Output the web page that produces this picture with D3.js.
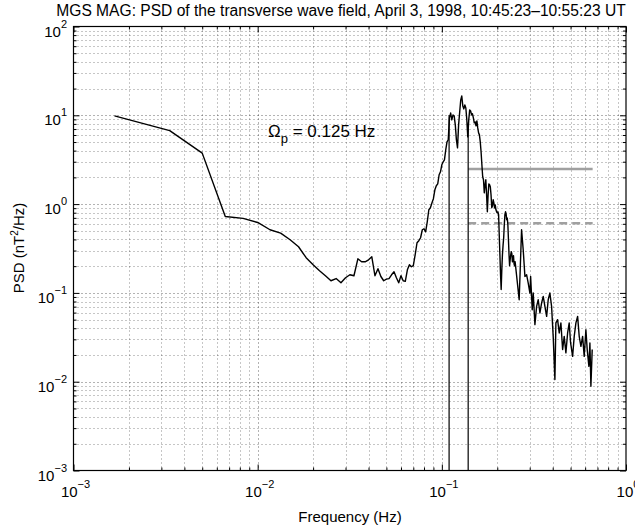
<!DOCTYPE html>
<html><head><meta charset="utf-8">
<script src="https://cdn.jsdelivr.net/npm/d3@7"></script>
<style>body{margin:0;background:#fff}svg{display:block}text{font-family:"Liberation Sans",Arial,Helvetica,sans-serif;fill:#000}</style>
</head><body>
<svg id="c" width="635" height="529"></svg>
<script>
const titleText = "MGS MAG: PSD of the transverse wave field, April 3, 1998, 10:45:23\u201310:55:23 UT";
const xLabel = "Frequency (Hz)";
const annotation = "0.125 Hz";
const xTickExps = [-3, -2, -1, 0];
const yTickExps = [-3, -2, -1, 0, 1, 2];

const freq = [
0.00167,0.00333,0.005,0.00667,0.00833,0.01,0.01167,0.01333,0.015,0.01667,
0.01833,0.02,0.02167,0.02333,0.025,0.02667,0.02833,0.03,0.03167,0.03333,
0.035,0.03667,0.03833,0.04,0.04167,0.04333,0.045,0.04667,0.04833,0.05,
0.05167,0.05333,0.055,0.05667,0.05833,0.06,0.06167,0.06333,0.065,0.06667,
0.06833,0.07,0.07167,0.07333,0.075,0.07667,0.07833,0.08,0.08167,0.08333,
0.085,0.08667,0.08833,0.09,0.09167,0.09333,0.095,0.09667,0.09833,0.1,
0.10167,0.10333,0.105,0.10667,0.10833,0.11,0.11167,0.11333,0.115,0.11667,
0.11833,0.12,0.12167,0.12333,0.125,0.12667,0.12833,0.13,0.13167,0.13333,
0.135,0.13667,0.13833,0.14,0.14167,0.14333,0.145,0.14667,0.14833,0.15,
0.15167,0.15333,0.155,0.15667,0.15833,0.16,0.16167,0.16333,0.165,0.16667,
0.16833,0.17,0.17167,0.17333,0.175,0.17667,0.17833,0.18,0.18167,0.18333,
0.185,0.18667,0.18833,0.19,0.19167,0.19333,0.195,0.19667,0.19833,0.2,
0.20167,0.20333,0.205,0.20667,0.20833,0.21,0.21167,0.21333,0.215,0.21667,
0.21833,0.22,0.22167,0.22333,0.225,0.22667,0.22833,0.23,0.23167,0.23333,
0.235,0.23667,0.23833,0.24,0.24167,0.24333,0.245,0.24667,0.24833,0.25,
0.263,0.271,0.2766,0.2826,0.2887,0.2945,0.3008,0.3035,0.3096,0.3135,
0.3202,0.3271,0.3337,0.3409,0.3482,0.3552,0.3628,0.3707,0.3781,0.3861,
0.3944,0.4024,0.4111,0.4162,0.4252,0.4339,0.4432,0.4527,0.4618,0.4717,
0.4819,0.4916,0.5003,0.5130,0.5234,0.5346,0.5461,0.5571,0.5691,0.5813,
0.5930,0.6057,0.6157,0.6289,0.6368,0.6448,0.6554];

const psd = [
9.85,6.73,3.75,0.725,0.69,0.621,0.514,0.472,0.397,0.331,
0.249,0.208,0.178,0.156,0.137,0.145,0.130,0.148,0.160,0.156,
0.242,0.224,0.224,0.236,0.255,0.156,0.187,0.153,0.137,0.143,
0.145,0.160,0.173,0.148,0.130,0.156,0.137,0.135,0.182,0.208,
0.197,0.203,0.269,0.367,0.387,0.418,0.514,0.528,0.487,0.632,
0.863,0.909,1.03,1.15,1.45,1.61,1.69,2.14,2.31,2.77,
2.99,3.15,4.08,5.02,5.29,9.35,10.6,8.87,10.1,9.84,
7.80,5.29,4.30,7.80,10.9,14.9,16.5,12.7,11.8,13.1,
12.1,8.87,5.71,8.87,11.5,11.2,10.1,10.4,9.35,8.21,
8.43,7.60,8.65,7.21,6.34,6.02,5.02,3.88,2.77,2.03,
1.88,1.34,1.65,1.88,1.27,0.819,1.27,1.69,1.65,1.57,
1.27,0.909,0.957,1.12,1.03,0.909,0.98,0.863,0.819,0.798,
0.819,0.759,0.452,0.269,0.160,0.109,0.182,0.269,0.343,0.418,
0.585,0.759,0.819,0.778,0.666,0.696,0.585,0.397,0.269,0.202,
0.236,0.269,0.291,0.276,0.224,0.249,0.262,0.213,0.202,0.224,
0.0838,0.514,0.306,0.1533,0.160,0.1292,0.0997,0.1533,0.0647,0.0997,
0.0439,0.0705,0.0838,0.0594,0.077,0.0913,0.0705,0.0544,0.0838,0.0997,
0.0705,0.0324,0.01056,0.0459,0.05,0.0354,0.0459,0.0230,0.0324,0.0211,
0.0354,0.0459,0.0273,0.0193,0.0324,0.0459,0.0544,0.0324,0.025,0.0324,
0.0193,0.0385,0.0230,0.0149,0.0273,0.00888,0.0230];

// vertical markers: [frequency, top PSD]
const vLineFreq = [0.1095, 0.139];
const vLineTop = [10.1, 8.3];
// gray horizontal levels
const hLineLevels = [2.48, 0.61];
const hLineDashed = [false, true];
const hLineRange = [0.139, 0.659];

const svg = d3.select("#c");
const L = 73.5, R = 626, T = 26.5, B = 470.5;
const x = d3.scaleLog().domain([1e-3, 1]).range([L, R]);
const y = d3.scaleLog().domain([1e-3, 1e2]).range([B, T]);

// grid values (major + minor)
const xGrid = [], yGrid = [];
for (let e = -3; e < 0; e++) for (let m = 1; m <= 9; m++) { const v = m * Math.pow(10, e); if (v > 1e-3) xGrid.push({v, major: m === 1}); }
for (let e = -3; e < 2; e++) for (let m = 1; m <= 9; m++) { const v = m * Math.pow(10, e); if (v > 1e-3) yGrid.push({v, major: m === 1}); }

const g = svg.append("g");
g.selectAll(".vg").data(xGrid).enter().append("line")
  .attr("x1", d => Math.round(x(d.v)) + 0.5).attr("x2", d => Math.round(x(d.v)) + 0.5)
  .attr("y1", T).attr("y2", B)
  .attr("stroke", "#000").attr("stroke-opacity", d => d.major ? 0.6 : 0.45)
  .attr("stroke-width", 1).attr("stroke-dasharray", "1,3");
g.selectAll(".hg").data(yGrid).enter().append("line")
  .attr("y1", d => Math.round(y(d.v)) + 0.5).attr("y2", d => Math.round(y(d.v)) + 0.5)
  .attr("x1", L).attr("x2", R)
  .attr("stroke", "#000").attr("stroke-opacity", d => d.major ? 0.6 : 0.45)
  .attr("stroke-width", 1).attr("stroke-dasharray", "1,3");

// axes with inside ticks
const xTicksAll = xGrid.map(d => d.v).concat([1e-3, 1]);
const yTicksAll = yGrid.map(d => d.v).concat([1e-3, 1e2]);
const isMajor = v => Math.abs(Math.log10(v) - Math.round(Math.log10(v))) < 1e-6;
svg.append("g").attr("transform", `translate(0,${B})`)
  .call(d3.axisBottom(x).tickValues(xTicksAll).tickFormat("").tickSizeOuter(0).tickSizeInner(0))
  .call(s => s.selectAll(".tick line").attr("y2", d => isMajor(d) ? -6 : -3))
  .call(s => s.select(".domain").remove());
svg.append("g").attr("transform", `translate(0,${T})`)
  .call(d3.axisTop(x).tickValues(xTicksAll).tickFormat("").tickSizeOuter(0).tickSizeInner(0))
  .call(s => s.selectAll(".tick line").attr("y2", d => isMajor(d) ? 6 : 3))
  .call(s => s.select(".domain").remove());
svg.append("g").attr("transform", `translate(${L},0)`)
  .call(d3.axisLeft(y).tickValues(yTicksAll).tickFormat("").tickSizeOuter(0).tickSizeInner(0))
  .call(s => s.selectAll(".tick line").attr("x2", d => isMajor(d) ? 6 : 3))
  .call(s => s.select(".domain").remove());
svg.append("g").attr("transform", `translate(${R},0)`)
  .call(d3.axisRight(y).tickValues(yTicksAll).tickFormat("").tickSizeOuter(0).tickSizeInner(0))
  .call(s => s.selectAll(".tick line").attr("x2", d => isMajor(d) ? -6 : -3))
  .call(s => s.select(".domain").remove());
svg.append("rect").attr("x", L).attr("y", T).attr("width", R - L).attr("height", B - T)
  .attr("fill", "none").attr("stroke", "#000").attr("stroke-width", 1.2);

// tick labels
const supTxt = e => e < 0 ? "\u2212" + Math.abs(e) : String(e);
xTickExps.forEach(e => {
  const t = svg.append("text").attr("x", x(Math.pow(10, e)) + 2).attr("y", 497)
    .attr("text-anchor", "middle").attr("font-size", 15);
  t.append("tspan").text("10");
  t.append("tspan").attr("dy", -9).attr("font-size", 11).text(supTxt(e));
});
yTickExps.forEach(e => {
  const t = svg.append("text").attr("x", 67).attr("y", y(Math.pow(10, e)) + 10)
    .attr("text-anchor", "end").attr("font-size", 15);
  t.append("tspan").text("10");
  t.append("tspan").attr("dy", -9).attr("font-size", 11).text(supTxt(e));
});

// title and axis labels
svg.append("text").attr("x", 341).attr("y", 16).attr("text-anchor", "middle")
  .attr("font-size", 15.6).text(titleText);
svg.append("text").attr("x", 350).attr("y", 522).attr("text-anchor", "middle")
  .attr("font-size", 15).text(xLabel);
const yl = svg.append("text").attr("transform", "translate(24,248) rotate(-90)")
  .attr("text-anchor", "middle").attr("font-size", 15);
yl.append("tspan").text("PSD (nT");
yl.append("tspan").attr("dy", -6).attr("font-size", 10).text("2");
yl.append("tspan").attr("dy", 6).text("/Hz)");

// annotation
const an = svg.append("text").attr("x", 268).attr("y", 136.5).attr("font-size", 17);
an.append("tspan").text("\u03A9");
an.append("tspan").attr("dy", 6).attr("font-size", 13).text("p");
an.append("tspan").attr("dy", -6).text(" = " + annotation);

// gray horizontal lines
hLineLevels.forEach((lv, i) => {
  svg.append("line").attr("x1", x(hLineRange[0])).attr("x2", x(hLineRange[1]))
    .attr("y1", y(lv)).attr("y2", y(lv))
    .attr("stroke", "#a0a0a0").attr("stroke-width", 2.5)
    .attr("stroke-dasharray", hLineDashed[i] ? "8,5" : null);
});

// vertical marker lines
vLineFreq.forEach((f, i) => {
  svg.append("line").attr("x1", x(f)).attr("x2", x(f))
    .attr("y1", B).attr("y2", y(vLineTop[i]))
    .attr("stroke", "#000").attr("stroke-width", 1.2);
});

// spectrum
const pts = freq.map((f, i) => [f, psd[i]]);
svg.append("path").datum(pts)
  .attr("d", d3.line().x(d => x(d[0])).y(d => y(d[1])))
  .attr("fill", "none").attr("stroke", "#000").attr("stroke-width", 1.4)
  .attr("stroke-linejoin", "round");
</script>
</body></html>
